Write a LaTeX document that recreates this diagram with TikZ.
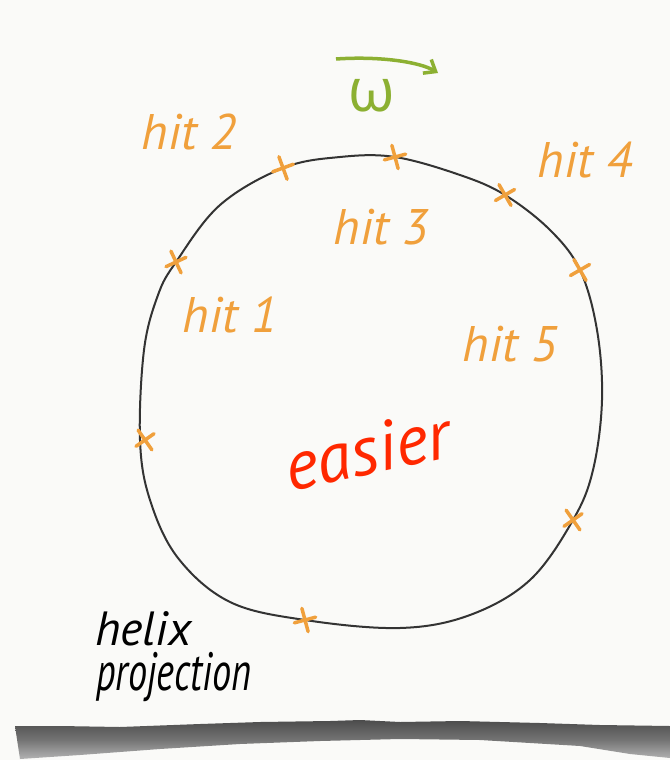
\documentclass[tikz,border=0pt]{standalone}
\usepackage{fontspec}
\setmainfont{PT Sans}
\newfontfamily\greekfont{Open Sans}
\usetikzlibrary{arrows.meta}
\definecolor{hitor}{RGB}{240,160,60}
\definecolor{omg}{RGB}{140,176,50}
\definecolor{easyred}{RGB}{255,40,0}
\definecolor{paper}{RGB}{250,250,248}
\begin{document}
\begin{tikzpicture}[x=1pt,y=-1pt,
  lbl/.style={text=hitor,font=\fontsize{50}{54}\selectfont\itshape,inner sep=0pt},
  blk/.style={text=black,font=\fontsize{48}{52}\selectfont\itshape,inner sep=0pt,anchor=base west},
  hx/.pic={\draw[hitor,line width=3.5pt,line cap=round] (-11,0) -- (11,0) (0,-12) -- (0,12);}
]
\useasboundingbox (0,0) rectangle (670,760);
\fill[paper] (0,0) rectangle (670,760);
% torn edge shadow
\shade[top color=black!70,bottom color=black!30,middle color=black!55]
  (15,726) -- (60,726) -- (120,727) -- (200,724) -- (260,722) -- (330,721) -- (360,720) -- (400,722) -- (460,721) -- (540,723) -- (600,725) -- (670,726)
  -- (670,758) -- (630,754) -- (580,746) -- (480,740) -- (400,739) -- (320,741) -- (240,744) -- (160,749) -- (80,755) -- (20,759) -- cycle;
% circle
\draw[black!80,line width=2pt] plot[smooth cycle,tension=0.6] coordinates {
 (283,168) (340,157) (395,157) (460,175) (505,195) (550,230) (580,270) (597,330)
 (602,400) (593,470) (573,520) (530,580) (470,615) (400,628) (305,620) (230,602)
 (178,558) (150,500) (140,440) (144,350) (158,295) (176,262) (220,205)};
% hit marks
\pic[rotate=25] at (176,262) {hx};
\pic[rotate=20] at (283,168) {hx};
\pic[rotate=15] at (395,157) {hx};
\pic[rotate=30] at (505,195) {hx};
\pic[rotate=30] at (580,270) {hx};
\pic[rotate=35] at (145,440) {hx};
\pic[rotate=35] at (573,520) {hx};
\pic[rotate=15] at (305,620) {hx};
% labels
\node[lbl] (h2) at (189,132) {hit 2};
\node[lbl] (h3) at (381,227) {hit 3};
\node[lbl] (h4) at (585,160) {hit 4};
\node[lbl] (h1) at (230,315) {hit 1};
\node[lbl] (h5) at (510,344) {hit 5};
\node[text=easyred,font=\fontsize{70}{74}\selectfont\itshape,rotate=12,inner sep=0pt] (ez) at (367,450) {easier};
\node[text=omg,font=\greekfont\fontsize{60}{62}\selectfont,inner sep=0pt] (om) at (372,96) {ω};
\coordinate (a0) at (336,59);
\coordinate (a1) at (438,73);
\draw[omg,line width=3.5pt,-{Straight Barb[length=10pt,width=16pt]}] (a0) .. controls (380,56) and (420,62) .. (a1);
\node[blk] (hl) at (95,645) {helix};
\node[blk,font=\fontsize{54}{58}\selectfont\itshape,xscale=0.71] (pr) at (96,690) {projection};
\end{tikzpicture}
\end{document}
